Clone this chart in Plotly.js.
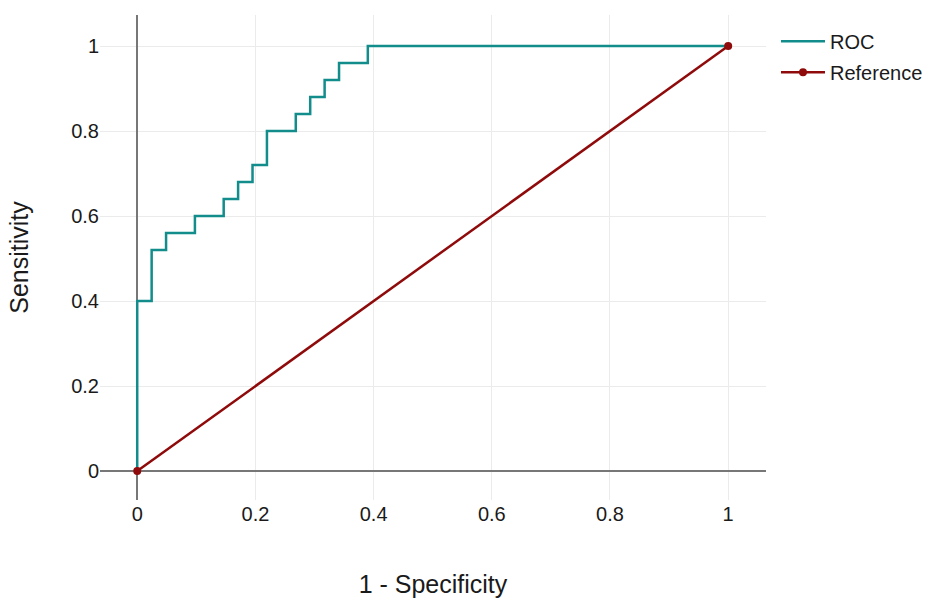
<!DOCTYPE html>
<html>
<head>
<meta charset="utf-8">
<script src="https://cdn.plot.ly/plotly-3.0.1.min.js"></script>
<style>html,body{margin:0;padding:0;background:#fff;}#chart{width:940px;height:598px;}</style>
</head>
<body>
<div id="chart"></div>
<script>
// ROC step points (false positive rate, true positive rate)
const fpr = [0, 0, 0.0244, 0.0488, 0.0976, 0.1463, 0.1707, 0.1951, 0.2195, 0.2683, 0.2927, 0.3171, 0.3415, 0.3902, 1];
const tpr = [0, 0.40, 0.52, 0.56, 0.60, 0.64, 0.68, 0.72, 0.80, 0.84, 0.88, 0.92, 0.96, 1.00, 1.00];
// Reference diagonal
const refX = [0, 1];
const refY = [0, 1];
const tickVals = [0, 0.2, 0.4, 0.6, 0.8, 1];
const tickText = ['0', '0.2', '0.4', '0.6', '0.8', '1'];

const FONT = 'Liberation Sans, Arial, Helvetica, sans-serif';

const traces = [
  {
    x: fpr, y: tpr, type: 'scatter', mode: 'lines', name: 'ROC', legendgroup: 'a',
    line: {color: '#138c8c', width: 2.5, shape: 'hv'}
  },
  {
    x: refX, y: refY, type: 'scatter', mode: 'lines+markers', name: 'Reference', legendgroup: 'b',
    line: {color: '#8f0a0a', width: 2.5},
    marker: {color: '#8f0a0a', size: 8}
  }
];

const layout = {
  width: 940, height: 598,
  margin: {l: 100, r: 174, t: 15, b: 98},
  paper_bgcolor: '#fff', plot_bgcolor: '#fff',
  font: {family: FONT, size: 20, color: '#1a1a1a'},
  showlegend: true,
  legend: {x: 1.015, y: 0.986, xanchor: 'left', yanchor: 'top', font: {size: 20, color: '#1a1a1a'},
           traceorder: 'grouped', tracegroupgap: 2, itemwidth: 44, borderwidth: 0},
  xaxis: {
    range: [-0.063, 1.064],
    tickvals: tickVals, ticktext: tickText,
    showgrid: true, gridcolor: '#ebebeb', gridwidth: 1,
    zeroline: true, zerolinecolor: '#777777', zerolinewidth: 2,
    showline: false, ticks: '',
    tickfont: {size: 20, color: '#1a1a1a'},
    title: {text: '1 - Specificity', font: {size: 25, color: '#1a1a1a'}, standoff: 52}
  },
  yaxis: {
    range: [-0.068, 1.073],
    tickvals: tickVals, ticktext: tickText,
    showgrid: true, gridcolor: '#ebebeb', gridwidth: 1,
    zeroline: true, zerolinecolor: '#777777', zerolinewidth: 2,
    showline: false, ticks: '',
    tickfont: {size: 20, color: '#1a1a1a'},
    title: {text: 'Sensitivity', font: {size: 25, color: '#1a1a1a'}, standoff: 35}
  }
};

Plotly.newPlot('chart', traces, layout, {displayModeBar: false, staticPlot: true});
</script>
</body>
</html>
